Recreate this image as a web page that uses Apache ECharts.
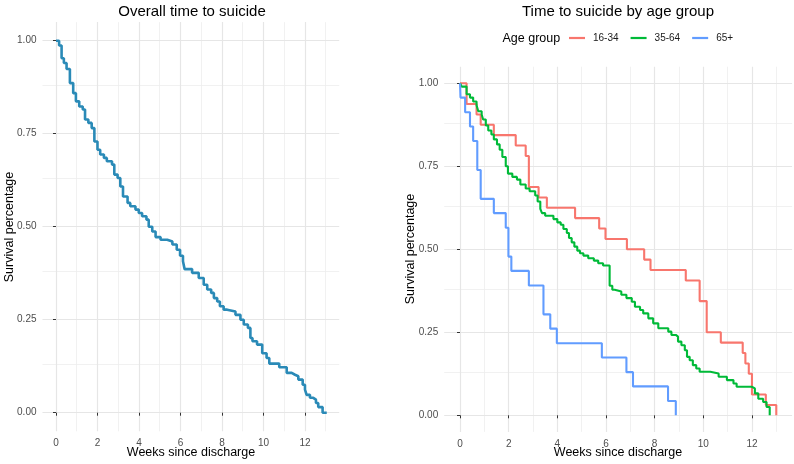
<!DOCTYPE html>
<html>
<head>
<meta charset="utf-8">
<script src="https://cdn.jsdelivr.net/npm/echarts@6/dist/echarts.min.js"></script>
<style>
  html, body { margin: 0; padding: 0; background: #fff; }
  #chart { width: 794px; height: 464px; }
</style>
</head>
<body>
<div id="chart"></div>
<script>
// overall Kaplan-Meier curve (week of step, survival after step)
const overallWeeks = [0, 0.15, 0.27, 0.38, 0.51, 0.67, 0.83, 0.96, 1.12, 1.29, 1.40, 1.56, 1.72, 1.85, 2.00, 2.13, 2.31, 2.45, 2.70, 2.81, 2.97, 3.10, 3.23, 3.45, 3.58, 3.83, 3.99, 4.15, 4.36, 4.47, 4.64, 4.80, 5.04, 5.36, 5.61, 5.82, 5.98, 6.12, 6.20, 6.56, 6.88, 7.12, 7.29, 7.48, 7.61, 7.77, 7.90, 8.08, 8.25, 8.65, 8.89, 9.05, 9.25, 9.37, 9.47, 9.69, 9.94, 10.15, 10.28, 10.76, 11.12, 11.36, 11.52, 11.68, 11.89, 12.00, 12.08, 12.24, 12.40, 12.53, 12.64, 12.85, 13.05];
const overallSurv = [1.0, 0.987, 0.953, 0.94, 0.924, 0.886, 0.859, 0.837, 0.823, 0.815, 0.788, 0.779, 0.765, 0.729, 0.707, 0.694, 0.685, 0.676, 0.667, 0.640, 0.631, 0.608, 0.581, 0.564, 0.555, 0.546, 0.537, 0.528, 0.519, 0.500, 0.487, 0.472, 0.465, 0.460, 0.452, 0.438, 0.422, 0.407, 0.386, 0.376, 0.362, 0.344, 0.331, 0.322, 0.308, 0.299, 0.286, 0.277, 0.272, 0.263, 0.250, 0.237, 0.228, 0.201, 0.192, 0.183, 0.160, 0.147, 0.132, 0.122, 0.107, 0.102, 0.098, 0.089, 0.075, 0.062, 0.048, 0.040, 0.035, 0.026, 0.015, 0, 0];

// by age group
const ageGroups = ['16-34', '35-64', '65+'];
const youngWeeks = [0, 0.27, 0.68, 0.85, 1.39, 2.29, 2.70, 2.83, 3.23, 3.57, 4.73, 5.72, 5.98, 6.86, 7.57, 7.83, 9.28, 9.85, 10.14, 10.72, 11.62, 11.73, 11.87, 12.00, 12.57, 13.00];
const youngSurv = [1.0, 0.9375, 0.906, 0.875, 0.844, 0.8125, 0.781, 0.6875, 0.656, 0.625, 0.594, 0.5625, 0.531, 0.5, 0.469, 0.4375, 0.406, 0.344, 0.25, 0.219, 0.1875, 0.156, 0.125, 0.0625, 0.031, 0];
const midWeeks = [0, 0.07, 0.27, 0.41, 0.54, 0.68, 0.75, 0.89, 0.95, 1.06, 1.16, 1.29, 1.39, 1.52, 1.63, 1.74, 1.88, 1.97, 2.15, 2.34, 2.48, 2.70, 2.86, 3.09, 3.19, 3.30, 3.37, 3.50, 3.84, 4.00, 4.14, 4.25, 4.39, 4.48, 4.59, 4.70, 4.82, 4.93, 5.07, 5.27, 5.50, 5.68, 5.88, 6.15, 6.26, 6.36, 6.63, 6.84, 7.06, 7.19, 7.40, 7.53, 7.74, 7.94, 8.15, 8.56, 8.69, 8.87, 8.96, 9.10, 9.24, 9.33, 9.44, 9.57, 9.71, 9.85, 10.29, 10.63, 10.97, 11.24, 11.37, 11.99, 12.12, 12.26, 12.46, 12.60, 12.73];
const midSurv = [1.0, 0.99, 0.967, 0.957, 0.945, 0.934, 0.916, 0.906, 0.891, 0.873, 0.858, 0.846, 0.831, 0.816, 0.800, 0.778, 0.750, 0.728, 0.718, 0.710, 0.695, 0.683, 0.675, 0.662, 0.644, 0.622, 0.609, 0.601, 0.591, 0.581, 0.574, 0.561, 0.549, 0.534, 0.521, 0.508, 0.496, 0.488, 0.481, 0.473, 0.466, 0.458, 0.451, 0.390, 0.378, 0.373, 0.363, 0.353, 0.342, 0.327, 0.317, 0.307, 0.292, 0.277, 0.262, 0.252, 0.242, 0.237, 0.222, 0.211, 0.196, 0.176, 0.166, 0.151, 0.141, 0.131, 0.126, 0.116, 0.106, 0.096, 0.086, 0.081, 0.066, 0.050, 0.040, 0.025, 0];
const oldWeeks = [0, 0.02, 0.21, 0.41, 0.54, 0.71, 0.85, 1.39, 1.88, 1.99, 2.11, 2.83, 3.43, 3.71, 3.98, 5.83, 6.84, 7.11, 8.55, 8.87];
const oldSurv = [1.0, 0.957, 0.913, 0.870, 0.826, 0.739, 0.652, 0.609, 0.565, 0.478, 0.435, 0.391, 0.304, 0.261, 0.217, 0.174, 0.13, 0.087, 0.043, 0];

const weekTicks = [0, 2, 4, 6, 8, 10, 12];
const weekMinor = [1, 3, 5, 7, 9, 11, 13];
const survTicks = [0, 0.25, 0.5, 0.75, 1];
const survMinor = [0.125, 0.375, 0.625, 0.875];

const groupColors = ['#F8766D', '#00BA38', '#619CFF'];
const font = "'Liberation Sans', Arial, sans-serif";

const zip = (xs, ys) => xs.map((x, i) => [x, ys[i]]);

function gridLines(idx) {
  const major = { color: '#E6E6E6', width: 1.2, type: 'solid' };
  const minor = { color: '#EEEEEE', width: 0.8, type: 'solid' };
  const data = []
    .concat(weekMinor.map(v => ({ xAxis: v, lineStyle: minor })))
    .concat(survMinor.map(v => ({ yAxis: v, lineStyle: minor })))
    .concat(weekTicks.map(v => ({ xAxis: v, lineStyle: major })))
    .concat(survTicks.map(v => ({ yAxis: v, lineStyle: major })));
  return {
    type: 'line', xAxisIndex: idx, yAxisIndex: idx, data: [], z: 0,
    silent: true,
    markLine: { z: 0, silent: true, symbol: ['none', 'none'], animation: false, label: { show: false }, data: data }
  };
}

function xAx(idx) {
  return {
    gridIndex: idx, type: 'value', min: -0.65, max: 13.65,
    axisLine: { show: false },
    splitLine: { show: false },
    axisTick: { show: true, length: 3, customValues: weekTicks, lineStyle: { color: '#333', width: 1 } },
    axisLabel: { customValues: weekTicks, margin: 7, color: '#4D4D4D', fontSize: 10, fontFamily: font }
  };
}
function yAx(idx) {
  return {
    gridIndex: idx, type: 'value', min: -0.05, max: 1.05,
    axisLine: { show: false },
    splitLine: { show: false },
    axisTick: { show: true, length: 3, customValues: survTicks, lineStyle: { color: '#333', width: 1 } },
    axisLabel: { customValues: survTicks, margin: 6, color: '#4D4D4D', fontSize: 10, fontFamily: font,
      formatter: v => v.toFixed(2) }
  };
}

const curve = (name, idx, xs, ys, color, width) => ({
  name: name, type: 'line', step: 'end', xAxisIndex: idx, yAxisIndex: idx,
  data: zip(xs, ys), showSymbol: false, symbol: 'none', z: 5,
  lineStyle: { color: color, width: width }, itemStyle: { color: color }
});

const chart = echarts.init(document.getElementById('chart'), null, { renderer: 'canvas' });
chart.setOption({
  animation: false,
  backgroundColor: '#fff',
  grid: [
    { left: 42.5, top: 22.1, width: 296.7, height: 409.2, containLabel: false, outerBoundsMode: 'none' },
    { left: 444.2, top: 66.7, width: 347.9, height: 365.2, containLabel: false, outerBoundsMode: 'none' }
  ],
  xAxis: [xAx(0), xAx(1)],
  yAxis: [yAx(0), yAx(1)],
  legend: {
    left: 569, top: 33, padding: 0, itemWidth: 16, itemHeight: 2.2, itemGap: 12, icon: 'rect',
    data: ageGroups,
    textStyle: { color: '#1a1a1a', fontSize: 10, fontFamily: font, padding: [0, 0, 0, 3] }
  },
  graphic: [
    { type: 'text', x: 192, y: 12, style: { text: 'Overall time to suicide', font: '15px ' + font, fill: '#000', textAlign: 'center', textVerticalAlign: 'middle' } },
    { type: 'text', x: 618, y: 12, style: { text: 'Time to suicide by age group', font: '15px ' + font, fill: '#000', textAlign: 'center', textVerticalAlign: 'middle' } },
    { type: 'text', x: 191, y: 453, style: { text: 'Weeks since discharge', font: '12.5px ' + font, fill: '#000', textAlign: 'center', textVerticalAlign: 'middle' } },
    { type: 'text', x: 618, y: 453, style: { text: 'Weeks since discharge', font: '12.5px ' + font, fill: '#000', textAlign: 'center', textVerticalAlign: 'middle' } },
    { type: 'text', x: 10, y: 227, rotation: Math.PI / 2, style: { text: 'Survival percentage', font: '12.5px ' + font, fill: '#000', textAlign: 'center', textVerticalAlign: 'middle' } },
    { type: 'text', x: 411, y: 249, rotation: Math.PI / 2, style: { text: 'Survival percentage', font: '12.5px ' + font, fill: '#000', textAlign: 'center', textVerticalAlign: 'middle' } },
    { type: 'text', x: 502.5, y: 39, style: { text: 'Age group', font: '12.5px ' + font, fill: '#000', textAlign: 'left', textVerticalAlign: 'middle' } }
  ],
  series: [
    gridLines(0),
    gridLines(1),
    curve('Overall', 0, overallWeeks, overallSurv, '#2A8AB7', 2.6),
    curve(ageGroups[0], 1, youngWeeks, youngSurv, groupColors[0], 2.1),
    curve(ageGroups[1], 1, midWeeks, midSurv, groupColors[1], 2.1),
    curve(ageGroups[2], 1, oldWeeks, oldSurv, groupColors[2], 2.1)
  ]
});
</script>
</body>
</html>
